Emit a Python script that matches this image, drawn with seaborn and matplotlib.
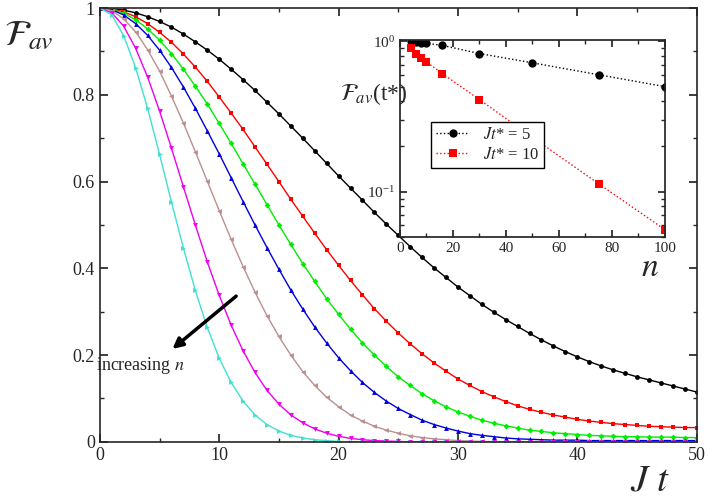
import numpy as np
import matplotlib
matplotlib.use("Agg")
import matplotlib.pyplot as plt
import seaborn as sns
import pandas as pd

t = list(range(0, 51))
black = [1.0,.999,.995,.989,.980,.969,.956,.940,.922,.903,.882,.859,.835,.810,.783,.756,.728,.700,.671,.642,.613,.585,.557,.529,.502,.476,.450,.425,.401,.379,.357,.337,.317,.299,.282,.266,.250,.235,.221,.208,.196,.185,.175,.166,.158,.150,.143,.136,.129,.122,.115]
red = [1.0,.998,.991,.980,.964,.944,.921,.894,.864,.831,.795,.758,.720,.680,.640,.600,.559,.520,.481,.443,.407,.372,.339,.307,.278,.251,.226,.203,.182,.163,.145,.130,.116,.104,.093,.083,.075,.068,.062,.057,.052,.048,.045,.042,.040,.038,.036,.035,.034,.033,.033]
green = [1.0,.997,.988,.973,.952,.926,.895,.859,.820,.779,.734,.688,.641,.594,.547,.500,.455,.411,.370,.330,.294,.260,.228,.200,.174,.150,.130,.111,.095,.081,.069,.059,.050,.043,.037,.032,.027,.024,.021,.019,.017,.015,.014,.013,.012,.012,.011,.011,.011,.010,.010]
blue = [1.0,.996,.984,.964,.937,.903,.863,.818,.769,.717,.664,.609,.554,.500,.448,.398,.350,.306,.265,.228,.194,.164,.137,.114,.094,.077,.063,.050,.040,.032,.025,.019,.015,.012,.009,.007,.006,.005,.004,.004,.004,.003,.003,.003,.003,.003,.003,.003,.003,.003,.003]
brown = [1.0,.994,.975,.945,.904,.855,.797,.735,.669,.601,.533,.467,.404,.345,.291,.243,.200,.162,.130,.103,.081,.062,.048,.036,.027,.020,.014,.010,.007,.005,.003,.002,.001] + [0.0]*18
magenta = [1.0,.989,.958,.907,.841,.763,.677,.588,.500,.415,.338,.269,.210,.160,.119,.087,.062,.044,.030,.020,.013,.008,.005,.003,.002,.001] + [0.0]*25
cyan = [1.0,.984,.936,.862,.769,.663,.553,.447,.349,.264,.193,.137,.094,.062,.040,.025,.015,.009,.005,.003,.001] + [0.0]*30

n_vals = [4, 6, 8, 10, 16, 30, 50, 75, 100]
inset_5 = [1.0, 0.99, 0.98, 0.97, 0.94, 0.83, 0.72, 0.60, 0.50]
inset_10 = [0.90, 0.83, 0.77, 0.73, 0.61, 0.41, 0.23, 0.113, 0.056]

sns.set_theme(style="ticks")
plt.rcParams['font.family'] = ['Liberation Serif', 'DejaVu Serif']
plt.rcParams['mathtext.fontset'] = 'stix'

fig = plt.figure(figsize=(7.08, 5.01), dpi=100)
ax = fig.add_axes([0.141, 0.118, 0.843, 0.866])

series = [(black, 'black', 'o', 3.5), (red, 'red', 's', 3.5), (green, '#00ee00', 'D', 3),
          (blue, '#0000dd', '^', 3.5), (brown, '#bc8f8f', '<', 3.5),
          (magenta, '#ee00ee', 'v', 3.5), (cyan, '#40e0d0', '>', 3.5)]
for vals, c, m, ms in series:
    df = pd.DataFrame({'t': t, 'F': vals})
    sns.lineplot(data=df, x='t', y='F', ax=ax, color=c, marker=m, markersize=ms,
                 markeredgewidth=0, linewidth=1)

ax.set_xlim(0, 50)
ax.set_ylim(0, 1)
ax.set_xticks([0, 10, 20, 30, 40, 50])
ax.set_yticks([0, 0.2, 0.4, 0.6, 0.8, 1])
ax.set_yticklabels(['0', '0.2', '0.4', '0.6', '0.8', '1'])
ax.xaxis.set_minor_locator(matplotlib.ticker.MultipleLocator(5))
ax.yaxis.set_minor_locator(matplotlib.ticker.MultipleLocator(0.1))
ax.tick_params(direction='in', which='both', top=True, right=True, labelsize=13)
ax.tick_params(which='major', length=6)
ax.tick_params(which='minor', length=3)
for s in ax.spines.values():
    s.set_linewidth(1.2)
ax.set_xlabel('')
ax.set_ylabel('')
fig.text(0.005, 0.91, r'$\mathcal{F}_{av}$', fontsize=26)
fig.text(0.89, 0.02, r'$J\ t$', fontsize=28)

ax.annotate('', xy=(5.9, 0.21), xytext=(11.6, 0.34),
            arrowprops=dict(arrowstyle='-|>', color='black', lw=2.5, mutation_scale=15))
ax.text(-0.3, 0.165, 'increasing $n$', fontsize=13, ha='left')

ins = fig.add_axes([0.565, 0.527, 0.374, 0.393])
ins.set_facecolor('white')
sns.lineplot(x=n_vals, y=inset_5, ax=ins, color='black', marker='o', markersize=6,
             markeredgewidth=0, linewidth=1, linestyle=':', label=r'$Jt$* = 5')
sns.lineplot(x=n_vals, y=inset_10, ax=ins, color='red', marker='s', markersize=6,
             markeredgewidth=0, linewidth=1, linestyle=':', label=r'$Jt$* = 10')
ins.set_yscale('log')
ins.set_xlim(0, 100)
ins.set_ylim(0.05, 1.02)
ins.set_xticks([0, 20, 40, 60, 80, 100])
ins.tick_params(direction='in', which='both', top=True, right=True, labelsize=11)
ins.tick_params(which='major', length=5)
ins.tick_params(which='minor', length=3)
ins.xaxis.set_minor_locator(matplotlib.ticker.MultipleLocator(10))
ins.legend(loc='upper left', bbox_to_anchor=(0.085, 0.625), fontsize=12, frameon=True,
           fancybox=False, edgecolor='black', handlelength=2.0, borderpad=0.3,
           labelspacing=0.2, framealpha=1)
fig.text(0.48, 0.80, r'$\mathcal{F}_{av}$(t*)', fontsize=17)
fig.text(0.905, 0.45, r'$n$', fontsize=24)

fig.savefig('out.png', dpi=100)
